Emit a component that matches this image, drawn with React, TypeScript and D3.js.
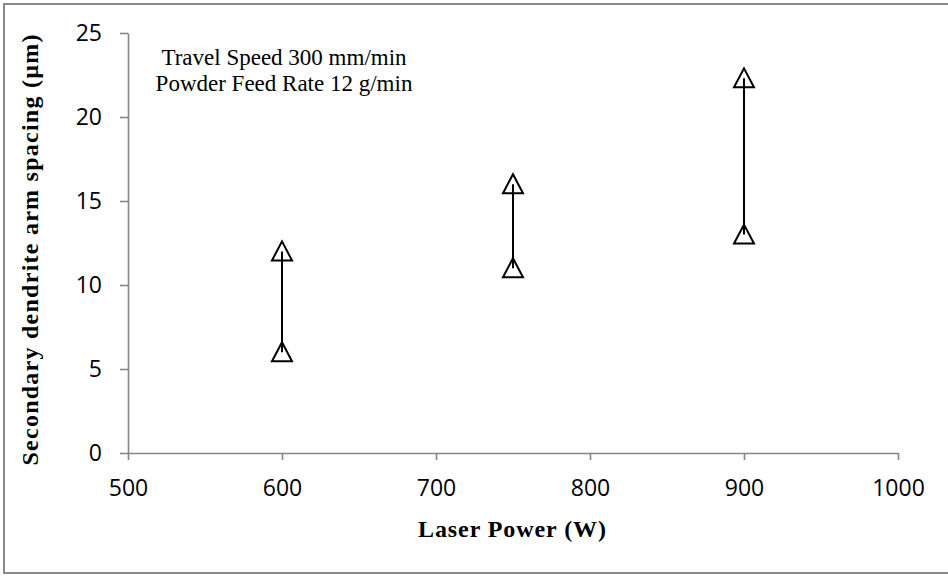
import React, { useEffect, useRef } from 'react';
import * as d3 from 'd3';

// laser power (W) and the low / high secondary dendrite arm spacing (µm)
const powers = [600, 750, 900];
const lowSdas = [6, 11, 13];
const highSdas = [12, 16, 22.3];

const xTicks = [500, 600, 700, 800, 900, 1000];
const yTicks = [0, 5, 10, 15, 20, 25];

const annotation = ['Travel Speed  300 mm/min', 'Powder Feed Rate  12 g/min'];

export default function App() {
  const svgRef = useRef<SVGSVGElement>(null);

  useEffect(() => {
    if (!svgRef.current) return;
    const svg = d3.select(svgRef.current);
    svg.selectAll('*').remove();

    const width = 948;
    const left = 128, right = 898, top = 33, bottom = 453;

    // outer chart border
    svg.append('rect')
      .attr('x', 4).attr('y', 4)
      .attr('width', width).attr('height', 569)
      .attr('fill', 'white')
      .attr('stroke', '#8a8a8a')
      .attr('stroke-width', 2);

    const x = d3.scaleLinear().domain([500, 1000]).range([left, right]);
    const y = d3.scaleLinear().domain([0, 25]).range([bottom, top]);

    const tickFont = '"Open Sans", "DejaVu Sans", sans-serif';

    // x axis
    const xAxis = svg.append('g')
      .attr('transform', `translate(0,${bottom})`)
      .call(d3.axisBottom(x).tickValues(xTicks).tickSize(7).tickSizeOuter(0).tickPadding(20).tickFormat(d3.format('d')));
    xAxis.select('.domain').attr('stroke', '#868686').attr('stroke-width', 1.6);
    xAxis.selectAll('.tick line').attr('stroke', '#868686').attr('stroke-width', 1.6);
    xAxis.selectAll('.tick text')
      .attr('font-family', tickFont).attr('font-size', 23).attr('fill', '#000');

    // y axis
    const yAxis = svg.append('g')
      .attr('transform', `translate(${left},0)`)
      .call(d3.axisLeft(y).tickValues(yTicks).tickSize(8).tickSizeOuter(0).tickPadding(18).tickFormat(d3.format('d')));
    yAxis.select('.domain').attr('stroke', '#868686').attr('stroke-width', 1.6);
    yAxis.selectAll('.tick line').attr('stroke', '#868686').attr('stroke-width', 1.6);
    yAxis.selectAll('.tick text')
      .attr('font-family', tickFont).attr('font-size', 23).attr('fill', '#000');

    // vertical range lines
    svg.append('g')
      .selectAll('line')
      .data(powers)
      .enter()
      .append('line')
      .attr('x1', d => x(d)).attr('x2', d => x(d))
      .attr('y1', (d, i) => y(lowSdas[i]))
      .attr('y2', (d, i) => y(highSdas[i]))
      .attr('stroke', '#000')
      .attr('stroke-width', 2);

    // triangle markers
    const tri = (cx: number, cy: number) =>
      `M${cx},${cy - 10}L${cx + 10},${cy + 9}L${cx - 10},${cy + 9}Z`;
    const pts = powers.flatMap((p, i) => [
      { p, v: lowSdas[i] },
      { p, v: highSdas[i] },
    ]);
    svg.append('g')
      .selectAll('path')
      .data(pts)
      .enter()
      .append('path')
      .attr('d', d => tri(x(d.p), y(d.v)))
      .attr('fill', 'none')
      .attr('stroke', '#000')
      .attr('stroke-width', 2)
      .attr('stroke-linejoin', 'miter');

    const serif = '"Liberation Serif", "Times New Roman", serif';

    // axis titles
    svg.append('text')
      .attr('x', 512).attr('y', 537)
      .attr('text-anchor', 'middle')
      .attr('font-family', serif).attr('font-weight', 'bold').attr('font-size', 24)
      .attr('textLength', 188).attr('lengthAdjust', 'spacing')
      .text('Laser Power  (W)');

    svg.append('text')
      .attr('transform', 'translate(38,250) rotate(-90)')
      .attr('text-anchor', 'middle')
      .attr('font-family', serif).attr('font-weight', 'bold').attr('font-size', 24)
      .attr('textLength', 431).attr('lengthAdjust', 'spacing')
      .text('Secondary dendrite  arm spacing (µm)');

    // annotation
    svg.append('g')
      .selectAll('text')
      .data(annotation)
      .enter()
      .append('text')
      .attr('x', 284)
      .attr('y', (d, i) => 65 + i * 26)
      .attr('text-anchor', 'middle')
      .attr('font-family', serif).attr('font-size', 23)
      .text(d => d);
  }, []);

  return (
    <svg ref={svgRef} width="948" height="581"
      style={{ position: 'absolute', left: 0, top: 0, display: 'block' }} />
  );
}
